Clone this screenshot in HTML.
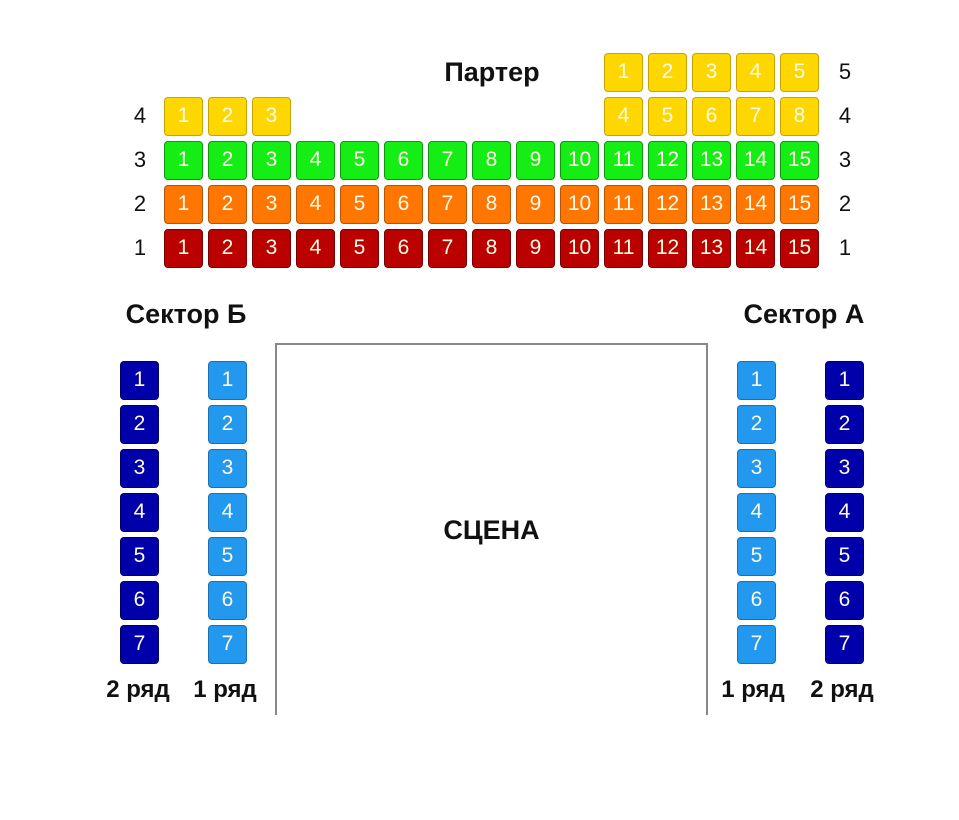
<!DOCTYPE html>
<html><head><meta charset="utf-8"><style>
body{margin:0;width:959px;height:820px;background:#fff;position:relative;overflow:hidden;font-family:"Liberation Sans",sans-serif}
.s{position:absolute;width:39px;height:39px;box-sizing:border-box;border-radius:4px;border:1.5px solid;color:#fffbe6;font-size:21px;line-height:36px;text-align:center}
.y{background:#FFD700;border-color:#c8a400}
.g{background:#14EE14;border-color:#0c9a0c}
.o{background:#FF7700;border-color:#b85400}
.r{background:#BB0000;border-color:#780000}
.d{background:#0000AA;border-color:#00006a}
.l{background:#2299EE;border-color:#1a70b0}
.t{position:absolute;font-size:22px;color:#111;width:30px;text-align:center;line-height:26px}
.b{position:absolute;font-weight:bold;color:#111;font-size:27px;line-height:30px;white-space:nowrap;text-align:center}
.stage{position:absolute;left:275px;top:343px;width:429px;height:370px;border:2px solid #888;border-bottom:none}
</style></head><body>
<div class="b" style="left:412px;top:57px;width:160px">Партер</div>
<div class="b" style="left:96px;top:299px;width:180px">Сектор Б</div>
<div class="b" style="left:714px;top:299px;width:180px">Сектор А</div>
<div class="b" style="left:400px;top:515px;width:183px">СЦЕНА</div>
<div class="b" style="left:94px;top:675px;width:88px;font-size:24px">2 ряд</div>
<div class="b" style="left:181px;top:675px;width:88px;font-size:24px">1 ряд</div>
<div class="b" style="left:709px;top:675px;width:88px;font-size:24px">1 ряд</div>
<div class="b" style="left:798px;top:675px;width:88px;font-size:24px">2 ряд</div>
<div class="stage"></div>

<div class="t" style="left:830px;top:59px">5</div>
<div class="t" style="left:125px;top:103px">4</div><div class="t" style="left:830px;top:103px">4</div>
<div class="t" style="left:125px;top:147px">3</div><div class="t" style="left:830px;top:147px">3</div>
<div class="t" style="left:125px;top:191px">2</div><div class="t" style="left:830px;top:191px">2</div>
<div class="t" style="left:125px;top:235px">1</div><div class="t" style="left:830px;top:235px">1</div>

<div class="s y" style="left:604px;top:53px">1</div><div class="s y" style="left:648px;top:53px">2</div><div class="s y" style="left:692px;top:53px">3</div><div class="s y" style="left:736px;top:53px">4</div><div class="s y" style="left:780px;top:53px">5</div>
<div class="s y" style="left:164px;top:97px">1</div><div class="s y" style="left:208px;top:97px">2</div><div class="s y" style="left:252px;top:97px">3</div>
<div class="s y" style="left:604px;top:97px">4</div><div class="s y" style="left:648px;top:97px">5</div><div class="s y" style="left:692px;top:97px">6</div><div class="s y" style="left:736px;top:97px">7</div><div class="s y" style="left:780px;top:97px">8</div>

<div class="s g" style="left:164px;top:141px">1</div><div class="s g" style="left:208px;top:141px">2</div><div class="s g" style="left:252px;top:141px">3</div><div class="s g" style="left:296px;top:141px">4</div><div class="s g" style="left:340px;top:141px">5</div><div class="s g" style="left:384px;top:141px">6</div><div class="s g" style="left:428px;top:141px">7</div><div class="s g" style="left:472px;top:141px">8</div><div class="s g" style="left:516px;top:141px">9</div><div class="s g" style="left:560px;top:141px">10</div><div class="s g" style="left:604px;top:141px">11</div><div class="s g" style="left:648px;top:141px">12</div><div class="s g" style="left:692px;top:141px">13</div><div class="s g" style="left:736px;top:141px">14</div><div class="s g" style="left:780px;top:141px">15</div>

<div class="s o" style="left:164px;top:185px">1</div><div class="s o" style="left:208px;top:185px">2</div><div class="s o" style="left:252px;top:185px">3</div><div class="s o" style="left:296px;top:185px">4</div><div class="s o" style="left:340px;top:185px">5</div><div class="s o" style="left:384px;top:185px">6</div><div class="s o" style="left:428px;top:185px">7</div><div class="s o" style="left:472px;top:185px">8</div><div class="s o" style="left:516px;top:185px">9</div><div class="s o" style="left:560px;top:185px">10</div><div class="s o" style="left:604px;top:185px">11</div><div class="s o" style="left:648px;top:185px">12</div><div class="s o" style="left:692px;top:185px">13</div><div class="s o" style="left:736px;top:185px">14</div><div class="s o" style="left:780px;top:185px">15</div>

<div class="s r" style="left:164px;top:229px">1</div><div class="s r" style="left:208px;top:229px">2</div><div class="s r" style="left:252px;top:229px">3</div><div class="s r" style="left:296px;top:229px">4</div><div class="s r" style="left:340px;top:229px">5</div><div class="s r" style="left:384px;top:229px">6</div><div class="s r" style="left:428px;top:229px">7</div><div class="s r" style="left:472px;top:229px">8</div><div class="s r" style="left:516px;top:229px">9</div><div class="s r" style="left:560px;top:229px">10</div><div class="s r" style="left:604px;top:229px">11</div><div class="s r" style="left:648px;top:229px">12</div><div class="s r" style="left:692px;top:229px">13</div><div class="s r" style="left:736px;top:229px">14</div><div class="s r" style="left:780px;top:229px">15</div>

<div class="s d" style="left:120px;top:361px">1</div><div class="s d" style="left:120px;top:405px">2</div><div class="s d" style="left:120px;top:449px">3</div><div class="s d" style="left:120px;top:493px">4</div><div class="s d" style="left:120px;top:537px">5</div><div class="s d" style="left:120px;top:581px">6</div><div class="s d" style="left:120px;top:625px">7</div>
<div class="s l" style="left:208px;top:361px">1</div><div class="s l" style="left:208px;top:405px">2</div><div class="s l" style="left:208px;top:449px">3</div><div class="s l" style="left:208px;top:493px">4</div><div class="s l" style="left:208px;top:537px">5</div><div class="s l" style="left:208px;top:581px">6</div><div class="s l" style="left:208px;top:625px">7</div>
<div class="s l" style="left:737px;top:361px">1</div><div class="s l" style="left:737px;top:405px">2</div><div class="s l" style="left:737px;top:449px">3</div><div class="s l" style="left:737px;top:493px">4</div><div class="s l" style="left:737px;top:537px">5</div><div class="s l" style="left:737px;top:581px">6</div><div class="s l" style="left:737px;top:625px">7</div>
<div class="s d" style="left:825px;top:361px">1</div><div class="s d" style="left:825px;top:405px">2</div><div class="s d" style="left:825px;top:449px">3</div><div class="s d" style="left:825px;top:493px">4</div><div class="s d" style="left:825px;top:537px">5</div><div class="s d" style="left:825px;top:581px">6</div><div class="s d" style="left:825px;top:625px">7</div>
</body></html>
